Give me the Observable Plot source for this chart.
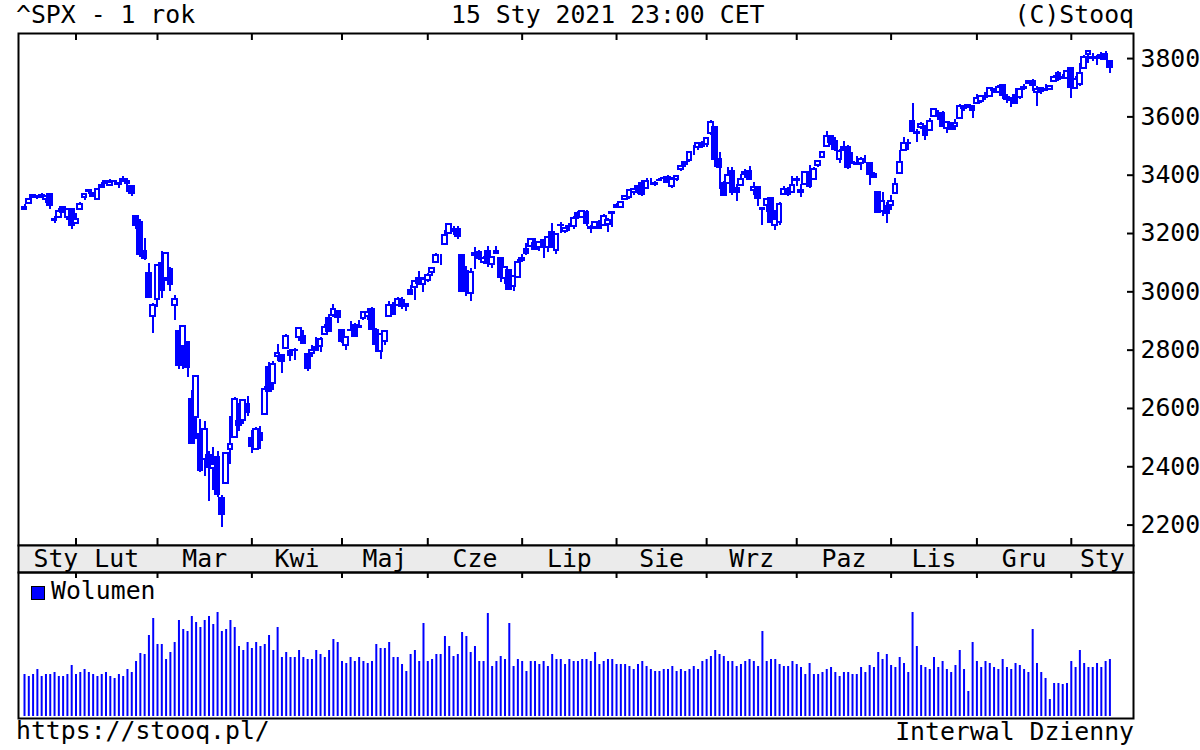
<!DOCTYPE html>
<html><head><meta charset="utf-8">
<script src="https://cdn.jsdelivr.net/npm/d3@7"></script>
<script src="https://cdn.jsdelivr.net/npm/@observablehq/plot@0.6"></script>
<style>
body{margin:0;background:#fff;}
#chart{position:relative;width:1200px;height:750px;overflow:hidden;font-family:"DejaVu Sans Mono",monospace;color:#000;background:#fff;}
.t{position:absolute;font-size:24.8px;line-height:24.8px;white-space:pre;}
.p{position:absolute;left:0;}
svg{overflow:visible;}
</style></head><body>
<div id="chart">
  <div class="t" style="left:16px;top:3px;">^SPX - 1 rok</div>
  <div class="t" style="left:451px;top:3px;">15 Sty 2021 23:00 CET</div>
  <div class="t" style="right:66px;top:3px;">(C)Stooq</div>
  <div id="pa" class="p" style="top:0;"></div>
  <div id="pb" class="p" style="top:545px;"></div>
  <div id="pc" class="p" style="top:572px;"></div>
  <div style="position:absolute;left:31px;top:586px;width:12px;height:12px;background:#0000ff;border:1.5px solid #000;"></div>
  <div class="t" style="left:51px;top:579px;">Wolumen</div>
  <div class="t" style="left:16px;top:719px;">https://stooq.pl/</div>
  <div class="t" style="right:66px;top:720px;">Interwal Dzienny</div>
</div>
<script>
const dates = [
"2020-01-15","2020-01-16","2020-01-17","2020-01-21","2020-01-22","2020-01-23","2020-01-24","2020-01-27","2020-01-28","2020-01-29","2020-01-30","2020-01-31",
"2020-02-03","2020-02-04","2020-02-05","2020-02-06","2020-02-07","2020-02-10","2020-02-11","2020-02-12","2020-02-13","2020-02-14","2020-02-18","2020-02-19","2020-02-20","2020-02-21","2020-02-24","2020-02-25","2020-02-26","2020-02-27","2020-02-28",
"2020-03-02","2020-03-03","2020-03-04","2020-03-05","2020-03-06","2020-03-09","2020-03-10","2020-03-11","2020-03-12","2020-03-13","2020-03-16","2020-03-17","2020-03-18","2020-03-19","2020-03-20","2020-03-23","2020-03-24","2020-03-25","2020-03-26","2020-03-27","2020-03-30","2020-03-31",
"2020-04-01","2020-04-02","2020-04-03","2020-04-06","2020-04-07","2020-04-08","2020-04-09","2020-04-13","2020-04-14","2020-04-15","2020-04-16","2020-04-17","2020-04-20","2020-04-21","2020-04-22","2020-04-23","2020-04-24","2020-04-27","2020-04-28","2020-04-29","2020-04-30",
"2020-05-01","2020-05-04","2020-05-05","2020-05-06","2020-05-07","2020-05-08","2020-05-11","2020-05-12","2020-05-13","2020-05-14","2020-05-15","2020-05-18","2020-05-19","2020-05-20","2020-05-21","2020-05-22","2020-05-26","2020-05-27","2020-05-28","2020-05-29",
"2020-06-01","2020-06-02","2020-06-03","2020-06-04","2020-06-05","2020-06-08","2020-06-09","2020-06-10","2020-06-11","2020-06-12","2020-06-15","2020-06-16","2020-06-17","2020-06-18","2020-06-19","2020-06-22","2020-06-23","2020-06-24","2020-06-25","2020-06-26","2020-06-29","2020-06-30",
"2020-07-01","2020-07-02","2020-07-06","2020-07-07","2020-07-08","2020-07-09","2020-07-10","2020-07-13","2020-07-14","2020-07-15","2020-07-16","2020-07-17","2020-07-20","2020-07-21","2020-07-22","2020-07-23","2020-07-24","2020-07-27","2020-07-28","2020-07-29","2020-07-30","2020-07-31",
"2020-08-03","2020-08-04","2020-08-05","2020-08-06","2020-08-07","2020-08-10","2020-08-11","2020-08-12","2020-08-13","2020-08-14","2020-08-17","2020-08-18","2020-08-19","2020-08-20","2020-08-21","2020-08-24","2020-08-25","2020-08-26","2020-08-27","2020-08-28","2020-08-31",
"2020-09-01","2020-09-02","2020-09-03","2020-09-04","2020-09-08","2020-09-09","2020-09-10","2020-09-11","2020-09-14","2020-09-15","2020-09-16","2020-09-17","2020-09-18","2020-09-21","2020-09-22","2020-09-23","2020-09-24","2020-09-25","2020-09-28","2020-09-29","2020-09-30",
"2020-10-01","2020-10-02","2020-10-05","2020-10-06","2020-10-07","2020-10-08","2020-10-09","2020-10-12","2020-10-13","2020-10-14","2020-10-15","2020-10-16","2020-10-19","2020-10-20","2020-10-21","2020-10-22","2020-10-23","2020-10-26","2020-10-27","2020-10-28","2020-10-29","2020-10-30",
"2020-11-02","2020-11-03","2020-11-04","2020-11-05","2020-11-06","2020-11-09","2020-11-10","2020-11-11","2020-11-12","2020-11-13","2020-11-16","2020-11-17","2020-11-18","2020-11-19","2020-11-20","2020-11-23","2020-11-24","2020-11-25","2020-11-27","2020-11-30",
"2020-12-01","2020-12-02","2020-12-03","2020-12-04","2020-12-07","2020-12-08","2020-12-09","2020-12-10","2020-12-11","2020-12-14","2020-12-15","2020-12-16","2020-12-17","2020-12-18","2020-12-21","2020-12-22","2020-12-23","2020-12-24","2020-12-28","2020-12-29","2020-12-30","2020-12-31",
"2021-01-04","2021-01-05","2021-01-06","2021-01-07","2021-01-08","2021-01-11","2021-01-12","2021-01-13","2021-01-14","2021-01-15"];

const open = [
3282,3303,3324,3321,3330,3316,3333,3247,3255,3289,3256,3282,
3236,3281,3325,3345,3336,3318,3366,3371,3366,3378,3369,3380,3380,3361,3258,3239,3140,3063,2917,
2974,3096,3046,3076,2954,2864,2813,2826,2631,2570,2509,2426,2437,2393,2432,2291,2344,2458,2501,2556,2559,2615,
2498,2459,2515,2578,2739,2685,2777,2782,2805,2796,2799,2842,2846,2785,2788,2810,2813,2855,2910,2918,2931,
2869,2815,2869,2883,2878,2909,2915,2940,2866,2795,2830,2914,2949,2954,2970,2948,3004,3016,3047,3025,
3039,3065,3099,3112,3164,3200,3213,3213,3124,3071,2994,3131,3136,3102,3140,3094,3139,3114,3047,3073,3019,3050,
3106,3144,3155,3166,3153,3176,3152,3205,3141,3226,3208,3224,3224,3269,3255,3272,3219,3220,3234,3227,3232,3270,
3288,3290,3317,3323,3340,3356,3370,3355,3373,3369,3381,3387,3393,3360,3386,3418,3436,3450,3485,3495,3510,
3507,3544,3565,3454,3372,3370,3413,3353,3364,3408,3411,3347,3357,3286,3296,3320,3226,3237,3334,3351,3341,
3386,3339,3367,3409,3385,3434,3460,3500,3534,3515,3454,3494,3494,3439,3440,3439,3465,3441,3403,3342,3277,3294,
3296,3336,3406,3486,3508,3583,3543,3563,3563,3553,3600,3610,3612,3559,3579,3567,3595,3636,3639,3634,
3646,3654,3668,3671,3695,3683,3706,3659,3656,3675,3666,3696,3714,3722,3684,3698,3693,3694,3723,3750,3736,3733,
3765,3698,3712,3765,3815,3803,3802,3802,3815,3789];

const high = [
3299,3317,3330,3330,3338,3327,3333,3259,3286,3293,3286,3282,
3268,3307,3338,3348,3341,3352,3376,3381,3385,3381,3375,3394,3389,3361,3260,3247,3183,3097,2960,
3091,3137,3131,3083,2986,2864,2883,2826,2661,2711,2563,2554,2454,2467,2453,2301,2450,2571,2637,2616,2632,2641,
2523,2533,2538,2677,2757,2761,2819,2782,2852,2802,2807,2879,2869,2786,2815,2845,2843,2888,2921,2955,2931,
2869,2844,2898,2891,2902,2932,2944,2946,2874,2853,2865,2968,2964,2980,2979,2957,3022,3036,3069,3049,
3062,3081,3131,3129,3212,3233,3223,3223,3124,3088,3080,3153,3141,3120,3156,3121,3155,3115,3086,3074,3054,3112,
3128,3166,3183,3184,3172,3180,3187,3235,3201,3238,3220,3234,3259,3277,3279,3280,3227,3241,3244,3265,3251,3272,
3303,3307,3331,3351,3353,3363,3381,3388,3387,3379,3388,3395,3400,3391,3400,3432,3444,3481,3501,3509,3515,
3528,3588,3565,3479,3380,3425,3426,3369,3403,3419,3429,3375,3362,3286,3320,3323,3279,3307,3361,3358,3394,
3397,3369,3410,3432,3426,3447,3482,3550,3534,3528,3489,3516,3502,3477,3465,3461,3466,3441,3410,3342,3341,3305,
3330,3389,3486,3529,3522,3646,3557,3581,3569,3594,3629,3623,3619,3585,3581,3590,3642,3636,3644,3634,
3678,3671,3683,3699,3697,3708,3712,3678,3666,3698,3695,3711,3725,3727,3703,3698,3711,3704,3741,3756,3745,3760,
3770,3738,3783,3812,3827,3818,3811,3821,3824,3789];

const low = [
3281,3303,3319,3317,3320,3302,3282,3235,3253,3272,3243,3215,
3236,3281,3314,3334,3322,3318,3353,3370,3361,3366,3356,3379,3341,3328,3215,3119,3109,2977,2856,
2945,2977,3034,3000,2902,2734,2734,2707,2479,2492,2381,2367,2281,2320,2296,2192,2344,2408,2501,2520,2545,2571,
2447,2456,2460,2575,2658,2663,2762,2721,2805,2762,2764,2831,2820,2727,2776,2794,2792,2853,2861,2912,2892,
2822,2798,2864,2848,2876,2903,2903,2870,2793,2767,2817,2914,2922,2954,2939,2934,2988,2970,3023,2999,
3032,3052,3099,3090,3164,3196,3193,3181,2999,2984,2966,3076,3108,3094,3083,3079,3127,3032,3024,3005,3000,3048,
3101,3125,3155,3143,3137,3116,3136,3149,3128,3201,3199,3206,3215,3248,3253,3223,3200,3214,3216,3227,3204,3220,
3285,3286,3317,3318,3329,3335,3326,3355,3363,3362,3379,3370,3370,3355,3379,3413,3426,3444,3468,3484,3493,
3495,3535,3427,3350,3329,3367,3329,3310,3364,3389,3384,3329,3292,3229,3271,3233,3209,3228,3333,3328,3340,
3361,3324,3367,3355,3385,3428,3458,3500,3501,3481,3441,3480,3420,3436,3433,3415,3440,3365,3389,3269,3260,3234,
3280,3336,3405,3486,3484,3547,3512,3557,3519,3553,3600,3589,3567,3544,3557,3553,3595,3618,3629,3594,
3646,3645,3657,3671,3679,3679,3661,3645,3633,3646,3660,3689,3711,3686,3636,3676,3689,3689,3723,3723,3730,3727,
3663,3695,3705,3765,3784,3789,3777,3792,3793,3750];

const close = [
3289,3317,3330,3321,3322,3326,3295,3244,3276,3273,3284,3226,
3249,3298,3335,3346,3328,3352,3358,3379,3374,3380,3370,3386,3373,3338,3226,3128,3116,2979,2954,
3090,3003,3130,3024,2972,2747,2882,2741,2481,2711,2386,2529,2398,2409,2305,2237,2447,2476,2630,2541,2627,2585,
2471,2527,2489,2664,2659,2750,2790,2762,2846,2783,2800,2875,2823,2737,2799,2798,2837,2878,2863,2940,2912,
2831,2843,2868,2848,2881,2930,2930,2870,2820,2853,2864,2954,2923,2972,2949,2955,2992,3036,3030,3044,
3056,3081,3123,3112,3194,3232,3207,3190,3002,3041,3067,3125,3113,3115,3098,3118,3131,3050,3084,3009,3053,3100,
3116,3130,3180,3145,3170,3152,3185,3155,3198,3227,3216,3225,3252,3257,3276,3236,3216,3239,3218,3258,3246,3271,
3295,3307,3328,3349,3351,3360,3334,3380,3373,3373,3382,3390,3375,3386,3397,3431,3444,3479,3485,3508,3500,
3527,3581,3455,3427,3332,3399,3339,3341,3384,3401,3385,3357,3319,3281,3316,3237,3247,3298,3352,3335,3363,
3381,3348,3409,3361,3419,3447,3477,3534,3512,3489,3483,3484,3427,3443,3436,3453,3465,3401,3391,3271,3310,3270,
3310,3369,3443,3510,3509,3551,3546,3573,3537,3585,3627,3610,3568,3582,3558,3578,3635,3630,3638,3622,
3662,3669,3667,3699,3692,3702,3673,3668,3663,3647,3695,3701,3722,3709,3695,3687,3690,3703,3735,3727,3732,3756,
3701,3727,3748,3804,3825,3800,3801,3810,3796,3768];

// volume, in units of 100 mln shares
const volume = [
42,40,42,47,40,42,42,44,40,40,42,51,
42,44,47,44,42,40,42,44,40,38,42,40,47,44,55,63,62,81,98,
72,72,57,64,74,96,87,85,100,94,89,96,100,92,104,85,87,96,89,70,66,74,
68,74,70,72,81,66,89,59,64,59,59,66,59,57,57,66,62,59,66,77,74,
55,53,59,55,59,55,53,55,72,68,68,74,59,59,52,45,62,66,55,93,
55,57,62,62,80,70,60,62,84,80,64,70,55,55,103,50,55,60,57,93,50,57,
55,45,55,55,52,55,50,62,57,57,52,57,55,55,57,57,55,64,52,55,57,57,
52,52,52,50,47,52,55,50,47,45,45,47,47,50,45,47,45,47,50,47,55,
57,60,66,62,60,55,55,50,52,55,57,55,50,85,55,57,57,52,50,50,55,
52,49,42,53,42,42,44,47,49,44,40,44,44,42,42,49,44,51,49,64,57,62,
51,49,59,53,44,104,70,51,49,47,59,49,55,47,44,51,66,47,25,74,
55,49,55,53,49,47,57,49,47,53,51,47,44,87,53,44,38,17,33,33,32,33,
55,49,66,53,49,49,53,49,55,57];

const monthNames = ["Sty","Lut","Mar","Kwi","Maj","Cze","Lip","Sie","Wrz","Paz","Lis","Gru"];
const priceTicks = [2200,2400,2600,2800,3000,3200,3400,3600,3800];

const BLUE = "#0000ff";
const rows = dates.map((d, i) => ({i, date: d, open: open[i], high: high[i], low: low[i], close: close[i], vol: volume[i]}));
const monthStarts = rows.filter((r, i) => i > 0 && r.date.slice(5, 7) !== rows[i - 1].date.slice(5, 7)).map(r => r.i);

// layout (pixels): plot frame x 18..1133
const X0 = -1.4, X1 = 258.5;
const kx = (X1 - X0) / 1115;
const Y0 = 2130, Y1 = 3886;
const ky = (Y1 - Y0) / 512;
const common = {width: 1200, marginLeft: 18, marginRight: 67};
const st = {fontFamily: "DejaVu Sans Mono", fontSize: "24.8px", background: "transparent", overflow: "visible", color: "#000"};

const starts = [0, ...monthStarts];
const monthLabels = starts.map((s, k) => {
  const end = k + 1 < starts.length ? starts[k + 1] : X1;
  const m = +rows[s].date.slice(5, 7) - 1;
  return {name: monthNames[m], x: k === 0 ? X0 : (s + end) / 2, first: k === 0};
});

const plotA = Plot.plot({
  ...common, height: 548, marginTop: 33, marginBottom: 3,
  x: {domain: [X0, X1], axis: null},
  y: {domain: [Y0, Y1], axis: null},
  style: st,
  marks: [
    Plot.ruleX(rows, {x: "i", y1: "low", y2: "high", stroke: BLUE, strokeWidth: 2, shapeRendering: "crispEdges"}),
    Plot.rect(rows, {x1: d => d.i - 0.55, x2: d => d.i + 0.55, y1: "open", y2: "close",
      fill: d => d.close >= d.open ? "#ffffff" : BLUE, stroke: BLUE, strokeWidth: 2, shapeRendering: "crispEdges"}),
    Plot.ruleY(priceTicks, {y: d => d, x1: X1 - 6 * kx, x2: X1, stroke: "#000", strokeWidth: 2}),
    Plot.ruleX(monthStarts, {x: d => d, y1: Y1, y2: Y1 - 7 * ky, stroke: "#000", strokeWidth: 2}),
    Plot.ruleX(monthStarts, {x: d => d, y1: Y0, y2: Y0 + 7 * ky, stroke: "#000", strokeWidth: 2}),
    Plot.axisY(priceTicks, {anchor: "right", tickSize: 0, tickPadding: 7, tickFormat: d => String(d), label: null, fill: "#000"}),
    Plot.frame({stroke: "#000", strokeWidth: 2})
  ]
});
document.getElementById("pa").append(plotA);

const plotB = Plot.plot({
  ...common, height: 27, marginTop: 0, marginBottom: 0,
  x: {domain: [X0, X1], axis: null},
  y: {domain: [0, 1], axis: null},
  style: st,
  marks: [
    Plot.frame({fill: "#ebebeb", stroke: "#000", strokeWidth: 2}),
    Plot.text(monthLabels.filter(d => !d.first), {x: "x", y: 0.5, text: "name", fill: "#000"}),
    Plot.text(monthLabels.filter(d => d.first), {x: "x", y: 0.5, text: "name", textAnchor: "start", dx: 15, fill: "#000"})
  ]
});
document.getElementById("pb").append(plotB);

const plotC = Plot.plot({
  ...common, height: 146, marginTop: 0, marginBottom: 0,
  x: {domain: [X0, X1], axis: null},
  y: {domain: [-2, 144], axis: null},
  style: st,
  marks: [
    Plot.ruleX(rows, {x: "i", y1: 0, y2: "vol", stroke: BLUE, strokeWidth: 2}),
    Plot.ruleX(monthStarts, {x: d => d, y1: 144, y2: 138, stroke: "#000", strokeWidth: 2}),
    Plot.frame({stroke: "#000", strokeWidth: 2})
  ]
});
document.getElementById("pc").append(plotC);
</script>
</body></html>
